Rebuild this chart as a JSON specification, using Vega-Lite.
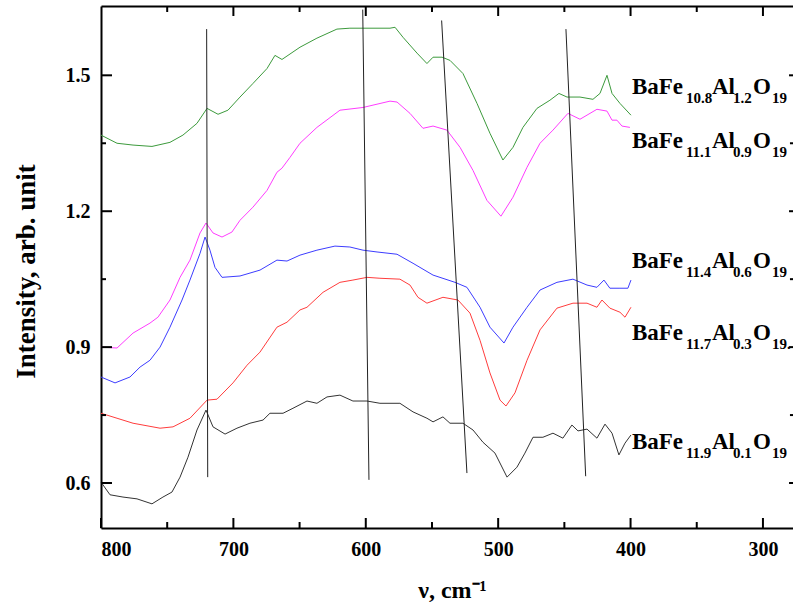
{
 "$schema": "https://vega.github.io/schema/vega-lite/v6.json",
 "width": 692, "height": 522,
 "autosize": {"type": "none"},
 "padding": {"left": 101, "top": 6, "right": 0, "bottom": 77},
 "background": "white",
 "config": {"view": {"stroke": null}, "font": "Liberation Serif",
  "axis": {"ticks": false, "tickSize": 0, "grid": false, "domainColor": "black", "domainWidth": 2, "title": null}},
 "datasets": {
  "spectra": [
   {"s":"Fe10.8","x":800,"y":1.368},{"s":"Fe10.8","x":787.9,"y":1.350},{"s":"Fe10.8","x":775.8,"y":1.346},{"s":"Fe10.8","x":761.5,"y":1.343},{"s":"Fe10.8","x":747.9,"y":1.352},{"s":"Fe10.8","x":738.1,"y":1.368},{"s":"Fe10.8","x":727.5,"y":1.394},{"s":"Fe10.8","x":719.9,"y":1.427},{"s":"Fe10.8","x":711.6,"y":1.414},{"s":"Fe10.8","x":704.1,"y":1.423},{"s":"Fe10.8","x":695.0,"y":1.452},{"s":"Fe10.8","x":685.2,"y":1.482},{"s":"Fe10.8","x":674.6,"y":1.515},{"s":"Fe10.8","x":668.6,"y":1.544},{"s":"Fe10.8","x":663.3,"y":1.535},{"s":"Fe10.8","x":649.7,"y":1.562},{"s":"Fe10.8","x":636.9,"y":1.582},{"s":"Fe10.8","x":621.8,"y":1.602},{"s":"Fe10.8","x":612.0,"y":1.604},{"s":"Fe10.8","x":581.7,"y":1.604},{"s":"Fe10.8","x":577.9,"y":1.606},{"s":"Fe10.8","x":571.9,"y":1.584},{"s":"Fe10.8","x":561.3,"y":1.549},{"s":"Fe10.8","x":553.8,"y":1.526},{"s":"Fe10.8","x":549.2,"y":1.540},{"s":"Fe10.8","x":542.4,"y":1.540},{"s":"Fe10.8","x":536.4,"y":1.533},{"s":"Fe10.8","x":526.6,"y":1.504},{"s":"Fe10.8","x":516.0,"y":1.438},{"s":"Fe10.8","x":506.2,"y":1.372},{"s":"Fe10.8","x":496.4,"y":1.313},{"s":"Fe10.8","x":488.8,"y":1.341},{"s":"Fe10.8","x":481.3,"y":1.385},{"s":"Fe10.8","x":470.7,"y":1.427},{"s":"Fe10.8","x":460.9,"y":1.445},{"s":"Fe10.8","x":454.1,"y":1.460},{"s":"Fe10.8","x":448.0,"y":1.452},{"s":"Fe10.8","x":438.2,"y":1.452},{"s":"Fe10.8","x":428.4,"y":1.447},{"s":"Fe10.8","x":423.1,"y":1.460},{"s":"Fe10.8","x":417.8,"y":1.500},{"s":"Fe10.8","x":414.0,"y":1.460},{"s":"Fe10.8","x":408.0,"y":1.438},{"s":"Fe10.8","x":399.7,"y":1.412},
   {"s":"Fe11.1","x":800,"y":0.900},{"s":"Fe11.1","x":787.9,"y":0.898},{"s":"Fe11.1","x":775.8,"y":0.931},{"s":"Fe11.1","x":763.0,"y":0.953},{"s":"Fe11.1","x":757.0,"y":0.966},{"s":"Fe11.1","x":747.9,"y":1.004},{"s":"Fe11.1","x":740.3,"y":1.054},{"s":"Fe11.1","x":732.8,"y":1.092},{"s":"Fe11.1","x":725.2,"y":1.152},{"s":"Fe11.1","x":720.7,"y":1.174},{"s":"Fe11.1","x":715.4,"y":1.152},{"s":"Fe11.1","x":708.6,"y":1.143},{"s":"Fe11.1","x":701.1,"y":1.154},{"s":"Fe11.1","x":695.0,"y":1.180},{"s":"Fe11.1","x":685.2,"y":1.209},{"s":"Fe11.1","x":674.6,"y":1.246},{"s":"Fe11.1","x":667.1,"y":1.286},{"s":"Fe11.1","x":663.3,"y":1.295},{"s":"Fe11.1","x":657.2,"y":1.319},{"s":"Fe11.1","x":649.7,"y":1.350},{"s":"Fe11.1","x":636.9,"y":1.385},{"s":"Fe11.1","x":619.5,"y":1.423},{"s":"Fe11.1","x":602.1,"y":1.429},{"s":"Fe11.1","x":581.7,"y":1.443},{"s":"Fe11.1","x":576.4,"y":1.441},{"s":"Fe11.1","x":566.6,"y":1.416},{"s":"Fe11.1","x":556.8,"y":1.383},{"s":"Fe11.1","x":549.2,"y":1.388},{"s":"Fe11.1","x":538.7,"y":1.379},{"s":"Fe11.1","x":528.8,"y":1.341},{"s":"Fe11.1","x":519.0,"y":1.290},{"s":"Fe11.1","x":508.5,"y":1.224},{"s":"Fe11.1","x":497.9,"y":1.189},{"s":"Fe11.1","x":488.8,"y":1.231},{"s":"Fe11.1","x":478.2,"y":1.297},{"s":"Fe11.1","x":468.4,"y":1.350},{"s":"Fe11.1","x":458.6,"y":1.379},{"s":"Fe11.1","x":447.3,"y":1.416},{"s":"Fe11.1","x":438.2,"y":1.403},{"s":"Fe11.1","x":425.4,"y":1.425},{"s":"Fe11.1","x":417.8,"y":1.421},{"s":"Fe11.1","x":414.0,"y":1.401},{"s":"Fe11.1","x":410.3,"y":1.401},{"s":"Fe11.1","x":406.5,"y":1.388},{"s":"Fe11.1","x":400.5,"y":1.385},
   {"s":"Fe11.4","x":800,"y":0.834},{"s":"Fe11.4","x":789.4,"y":0.821},{"s":"Fe11.4","x":778.1,"y":0.834},{"s":"Fe11.4","x":770.5,"y":0.856},{"s":"Fe11.4","x":763.0,"y":0.871},{"s":"Fe11.4","x":755.4,"y":0.900},{"s":"Fe11.4","x":747.9,"y":0.944},{"s":"Fe11.4","x":738.8,"y":1.004},{"s":"Fe11.4","x":732.8,"y":1.048},{"s":"Fe11.4","x":725.2,"y":1.107},{"s":"Fe11.4","x":721.4,"y":1.143},{"s":"Fe11.4","x":717.7,"y":1.114},{"s":"Fe11.4","x":713.9,"y":1.076},{"s":"Fe11.4","x":708.6,"y":1.054},{"s":"Fe11.4","x":695.0,"y":1.057},{"s":"Fe11.4","x":679.9,"y":1.070},{"s":"Fe11.4","x":667.1,"y":1.092},{"s":"Fe11.4","x":659.5,"y":1.090},{"s":"Fe11.4","x":649.7,"y":1.103},{"s":"Fe11.4","x":636.9,"y":1.114},{"s":"Fe11.4","x":623.3,"y":1.123},{"s":"Fe11.4","x":612.0,"y":1.121},{"s":"Fe11.4","x":602.1,"y":1.114},{"s":"Fe11.4","x":591.5,"y":1.110},{"s":"Fe11.4","x":576.4,"y":1.105},{"s":"Fe11.4","x":564.3,"y":1.085},{"s":"Fe11.4","x":549.2,"y":1.059},{"s":"Fe11.4","x":532.6,"y":1.043},{"s":"Fe11.4","x":523.6,"y":1.032},{"s":"Fe11.4","x":513.7,"y":0.988},{"s":"Fe11.4","x":506.2,"y":0.944},{"s":"Fe11.4","x":495.6,"y":0.909},{"s":"Fe11.4","x":488.8,"y":0.944},{"s":"Fe11.4","x":478.2,"y":0.988},{"s":"Fe11.4","x":468.4,"y":1.026},{"s":"Fe11.4","x":455.6,"y":1.043},{"s":"Fe11.4","x":443.5,"y":1.050},{"s":"Fe11.4","x":432.9,"y":1.037},{"s":"Fe11.4","x":425.4,"y":1.032},{"s":"Fe11.4","x":420.1,"y":1.048},{"s":"Fe11.4","x":415.6,"y":1.030},{"s":"Fe11.4","x":408.0,"y":1.030},{"s":"Fe11.4","x":402.0,"y":1.030},{"s":"Fe11.4","x":399.7,"y":1.048},
   {"s":"Fe11.7","x":800,"y":0.754},{"s":"Fe11.7","x":787.9,"y":0.743},{"s":"Fe11.7","x":775.8,"y":0.732},{"s":"Fe11.7","x":755.4,"y":0.721},{"s":"Fe11.7","x":745.6,"y":0.724},{"s":"Fe11.7","x":732.8,"y":0.743},{"s":"Fe11.7","x":719.9,"y":0.783},{"s":"Fe11.7","x":712.4,"y":0.785},{"s":"Fe11.7","x":700.3,"y":0.821},{"s":"Fe11.7","x":689.7,"y":0.860},{"s":"Fe11.7","x":679.9,"y":0.889},{"s":"Fe11.7","x":667.1,"y":0.944},{"s":"Fe11.7","x":659.5,"y":0.955},{"s":"Fe11.7","x":649.7,"y":0.982},{"s":"Fe11.7","x":644.4,"y":0.988},{"s":"Fe11.7","x":632.3,"y":1.021},{"s":"Fe11.7","x":619.5,"y":1.043},{"s":"Fe11.7","x":609.7,"y":1.048},{"s":"Fe11.7","x":599.1,"y":1.054},{"s":"Fe11.7","x":589.3,"y":1.052},{"s":"Fe11.7","x":574.2,"y":1.050},{"s":"Fe11.7","x":566.6,"y":1.037},{"s":"Fe11.7","x":560.6,"y":1.010},{"s":"Fe11.7","x":553.8,"y":0.997},{"s":"Fe11.7","x":541.7,"y":1.010},{"s":"Fe11.7","x":530.4,"y":1.004},{"s":"Fe11.7","x":521.3,"y":0.975},{"s":"Fe11.7","x":513.7,"y":0.915},{"s":"Fe11.7","x":506.2,"y":0.843},{"s":"Fe11.7","x":498.6,"y":0.783},{"s":"Fe11.7","x":494.1,"y":0.770},{"s":"Fe11.7","x":487.3,"y":0.799},{"s":"Fe11.7","x":478.2,"y":0.871},{"s":"Fe11.7","x":468.4,"y":0.938},{"s":"Fe11.7","x":455.6,"y":0.986},{"s":"Fe11.7","x":443.5,"y":0.997},{"s":"Fe11.7","x":432.9,"y":0.997},{"s":"Fe11.7","x":425.4,"y":0.988},{"s":"Fe11.7","x":421.6,"y":1.004},{"s":"Fe11.7","x":415.6,"y":0.986},{"s":"Fe11.7","x":408.0,"y":0.977},{"s":"Fe11.7","x":404.2,"y":0.966},{"s":"Fe11.7","x":399.7,"y":0.988},
   {"s":"Fe11.9","x":800,"y":0.602},{"s":"Fe11.9","x":793.2,"y":0.574},{"s":"Fe11.9","x":783.4,"y":0.569},{"s":"Fe11.9","x":772.8,"y":0.565},{"s":"Fe11.9","x":761.5,"y":0.554},{"s":"Fe11.9","x":753.2,"y":0.569},{"s":"Fe11.9","x":746.4,"y":0.580},{"s":"Fe11.9","x":740.3,"y":0.613},{"s":"Fe11.9","x":734.3,"y":0.657},{"s":"Fe11.9","x":727.5,"y":0.717},{"s":"Fe11.9","x":720.7,"y":0.761},{"s":"Fe11.9","x":715.4,"y":0.724},{"s":"Fe11.9","x":706.3,"y":0.708},{"s":"Fe11.9","x":697.3,"y":0.721},{"s":"Fe11.9","x":687.5,"y":0.732},{"s":"Fe11.9","x":677.6,"y":0.739},{"s":"Fe11.9","x":672.4,"y":0.754},{"s":"Fe11.9","x":662.5,"y":0.754},{"s":"Fe11.9","x":655.0,"y":0.765},{"s":"Fe11.9","x":644.4,"y":0.781},{"s":"Fe11.9","x":636.9,"y":0.776},{"s":"Fe11.9","x":629.3,"y":0.790},{"s":"Fe11.9","x":619.5,"y":0.794},{"s":"Fe11.9","x":609.7,"y":0.781},{"s":"Fe11.9","x":599.1,"y":0.781},{"s":"Fe11.9","x":589.3,"y":0.776},{"s":"Fe11.9","x":574.2,"y":0.776},{"s":"Fe11.9","x":564.3,"y":0.757},{"s":"Fe11.9","x":553.8,"y":0.743},{"s":"Fe11.9","x":549.2,"y":0.735},{"s":"Fe11.9","x":541.7,"y":0.746},{"s":"Fe11.9","x":536.4,"y":0.732},{"s":"Fe11.9","x":526.6,"y":0.732},{"s":"Fe11.9","x":519.0,"y":0.717},{"s":"Fe11.9","x":511.5,"y":0.690},{"s":"Fe11.9","x":502.4,"y":0.666},{"s":"Fe11.9","x":493.3,"y":0.613},{"s":"Fe11.9","x":485.8,"y":0.635},{"s":"Fe11.9","x":479.8,"y":0.666},{"s":"Fe11.9","x":473.7,"y":0.701},{"s":"Fe11.9","x":466.2,"y":0.701},{"s":"Fe11.9","x":458.6,"y":0.710},{"s":"Fe11.9","x":451.1,"y":0.699},{"s":"Fe11.9","x":444.3,"y":0.728},{"s":"Fe11.9","x":439.7,"y":0.715},{"s":"Fe11.9","x":432.9,"y":0.719},{"s":"Fe11.9","x":425.4,"y":0.699},{"s":"Fe11.9","x":419.3,"y":0.730},{"s":"Fe11.9","x":414.0,"y":0.710},{"s":"Fe11.9","x":408.8,"y":0.662},{"s":"Fe11.9","x":404.2,"y":0.688},{"s":"Fe11.9","x":399.7,"y":0.706}
  ],
  "labels": [
   {"x":399,"y":1.458,"fe":"10.8","al":"1.2","o":"19"},
   {"x":399,"y":1.339,"fe":"11.1","al":"0.9","o":"19"},
   {"x":399,"y":1.074,"fe":"11.4","al":"0.6","o":"19"},
   {"x":399,"y":0.915,"fe":"11.7","al":"0.3","o":"19."},
   {"x":399,"y":0.675,"fe":"11.9","al":"0.1","o":"19"}
  ],
  "guides": [
   {"x":720.2,"y":1.602,"x2":719.4,"y2":0.613},
   {"x":602.3,"y":1.645,"x2":597.6,"y2":0.607},
   {"x":542.7,"y":1.621,"x2":523.6,"y2":0.622},
   {"x":448.8,"y":1.602,"x2":433.9,"y2":0.615}
  ],
  "frameticks": [
   {"x":800,"x2":800,"y":0.5007,"y2":0.5228},{"x":750,"x2":750,"y":0.5007,"y2":0.5139},{"x":700,"x2":700,"y":0.5007,"y2":0.5228},{"x":650,"x2":650,"y":0.5007,"y2":0.5139},
   {"x":600,"x2":600,"y":0.5007,"y2":0.5228},{"x":550,"x2":550,"y":0.5007,"y2":0.5139},{"x":500,"x2":500,"y":0.5007,"y2":0.5228},{"x":450,"x2":450,"y":0.5007,"y2":0.5139},
   {"x":400,"x2":400,"y":0.5007,"y2":0.5228},{"x":350,"x2":350,"y":0.5007,"y2":0.5139},{"x":300,"x2":300,"y":0.5007,"y2":0.5228},
   {"x":750,"x2":750,"y":1.653,"y2":1.6398},{"x":700,"x2":700,"y":1.653,"y2":1.6309},{"x":650,"x2":650,"y":1.653,"y2":1.6398},{"x":600,"x2":600,"y":1.653,"y2":1.6309},
   {"x":550,"x2":550,"y":1.653,"y2":1.6398},{"x":500,"x2":500,"y":1.653,"y2":1.6309},{"x":450,"x2":450,"y":1.653,"y2":1.6398},{"x":400,"x2":400,"y":1.653,"y2":1.6309},
   {"x":350,"x2":350,"y":1.653,"y2":1.6398},{"x":300,"x2":300,"y":1.653,"y2":1.6309},
   {"x":800,"x2":791.7,"y":0.6,"y2":0.6},{"x":800,"x2":796.2,"y":0.75,"y2":0.75},{"x":800,"x2":791.7,"y":0.9,"y2":0.9},{"x":800,"x2":796.2,"y":1.05,"y2":1.05},
   {"x":800,"x2":791.7,"y":1.2,"y2":1.2},{"x":800,"x2":796.2,"y":1.35,"y2":1.35},{"x":800,"x2":791.7,"y":1.5,"y2":1.5},
   {"x":277.3,"x2":280.3,"y":0.6,"y2":0.6},{"x":277.3,"x2":279.6,"y":0.75,"y2":0.75},{"x":277.3,"x2":280.3,"y":0.9,"y2":0.9},{"x":277.3,"x2":279.6,"y":1.05,"y2":1.05},
   {"x":277.3,"x2":280.3,"y":1.2,"y2":1.2},{"x":277.3,"x2":279.6,"y":1.35,"y2":1.35},{"x":277.3,"x2":280.3,"y":1.5,"y2":1.5}
  ]
 },
 "layer": [
  {
   "data": {"name": "spectra"},
   "mark": {"type": "line", "strokeWidth": 1, "interpolate": "linear"},
   "encoding": {
    "x": {"field": "x", "type": "quantitative", "scale": {"domain": [800, 277.3], "nice": false, "zero": false},
     "axis": {"orient": "bottom", "title": "ν, cm⁻¹", "values": [800,700,600,500,400,300],
      "domain": true, "labelPadding": 11, "labelFont": "Liberation Serif", "labelFontWeight": "bold", "labelFontSize": 20, "labelColor": "black",
      "titleFont": "Liberation Serif", "titleFontWeight": "bold", "titleFontSize": 24, "titleColor": "black",
      "titleX": 351, "titleY": 69, "titleBaseline": "alphabetic"}},
    "y": {"field": "y", "type": "quantitative", "scale": {"domain": [0.5007, 1.653], "nice": false, "zero": false},
     "axis": {"orient": "left", "title": "Intensity, arb. unit", "values": [0.6,0.9,1.2,1.5], "format": ".1f",
      "domain": true, "labelPadding": 11, "labelFont": "Liberation Serif", "labelFontWeight": "bold", "labelFontSize": 20, "labelColor": "black",
      "titleFont": "Liberation Serif", "titleFontWeight": "bold", "titleFontSize": 27, "titleColor": "black",
      "titleX": -67, "titleY": 265, "titleBaseline": "alphabetic"}},
    "color": {"field": "s", "type": "nominal", "legend": null,
     "scale": {"domain": ["Fe10.8","Fe11.1","Fe11.4","Fe11.7","Fe11.9"], "range": ["#3c9a3c","#ff3cff","#3c3cff","#ff3c3c","#333333"]}}
   }
  },
  {
   "data": {"name": "guides"},
   "mark": {"type": "rule", "color": "#222222", "strokeWidth": 1},
   "encoding": {
    "x": {"field": "x", "type": "quantitative", "scale": {"domain": [800, 277.3], "nice": false, "zero": false},
     "axis": {"orient": "top", "labels": false, "domain": true, "values": [800]}},
    "x2": {"field": "x2"},
    "y": {"field": "y", "type": "quantitative", "scale": {"domain": [0.5007, 1.653], "nice": false, "zero": false}, "axis": null},
    "y2": {"field": "y2"}
   }
  },
  {
   "data": {"name": "frameticks"},
   "mark": {"type": "rule", "color": "black", "strokeWidth": 2},
   "encoding": {
    "x": {"field": "x", "type": "quantitative", "scale": {"domain": [800, 277.3], "nice": false, "zero": false}, "axis": null},
    "x2": {"field": "x2"},
    "y": {"field": "y", "type": "quantitative", "scale": {"domain": [0.5007, 1.653], "nice": false, "zero": false}, "axis": null},
    "y2": {"field": "y2"}
   }
  },
  {
   "data": {"name": "labels"},
   "encoding": {
    "x": {"field": "x", "type": "quantitative", "scale": {"domain": [800, 277.3], "nice": false, "zero": false}, "axis": null},
    "y": {"field": "y", "type": "quantitative", "scale": {"domain": [0.5007, 1.653], "nice": false, "zero": false}, "axis": null}
   },
   "layer": [
    {"mark": {"type": "text", "text": "BaFe", "align": "left", "baseline": "alphabetic", "font": "Liberation Serif", "fontWeight": "bold", "fontSize": 23, "color": "black", "dx": 0}},
    {"mark": {"type": "text", "align": "left", "baseline": "alphabetic", "font": "Liberation Serif", "fontWeight": "bold", "fontSize": 15, "color": "black", "dx": 54, "dy": 9}, "encoding": {"text": {"field": "fe"}}},
    {"mark": {"type": "text", "text": "Al", "align": "left", "baseline": "alphabetic", "font": "Liberation Serif", "fontWeight": "bold", "fontSize": 23, "color": "black", "dx": 80}},
    {"mark": {"type": "text", "align": "left", "baseline": "alphabetic", "font": "Liberation Serif", "fontWeight": "bold", "fontSize": 15, "color": "black", "dx": 101, "dy": 9}, "encoding": {"text": {"field": "al"}}},
    {"mark": {"type": "text", "text": "O", "align": "left", "baseline": "alphabetic", "font": "Liberation Serif", "fontWeight": "bold", "fontSize": 23, "color": "black", "dx": 121}},
    {"mark": {"type": "text", "align": "left", "baseline": "alphabetic", "font": "Liberation Serif", "fontWeight": "bold", "fontSize": 15, "color": "black", "dx": 140, "dy": 9}, "encoding": {"text": {"field": "o"}}}
   ]
  }
 ],
 "resolve": {"axis": {"x": "independent", "y": "independent"}}
}
